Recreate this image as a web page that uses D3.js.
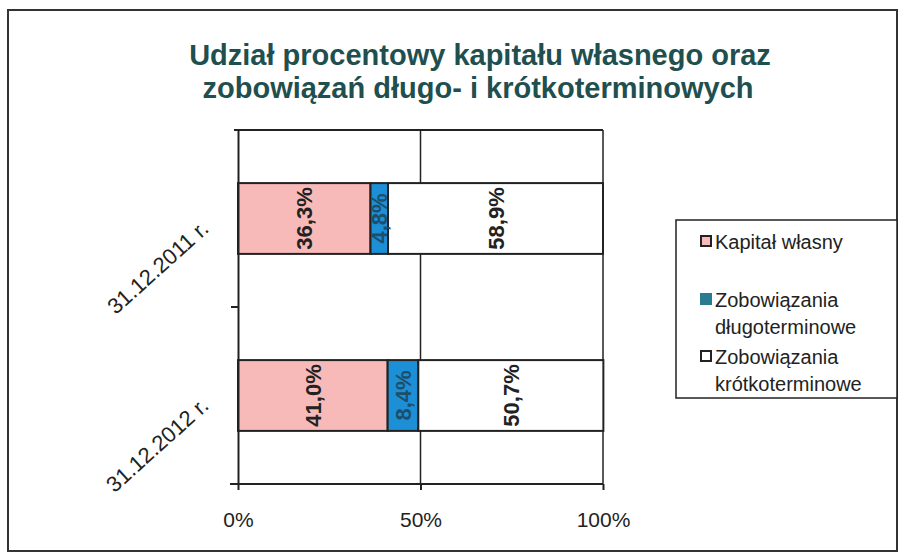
<!DOCTYPE html>
<html>
<head>
  <meta charset="utf-8">
  <script src="https://d3js.org/d3.v7.min.js"></script>
  <style>
    body { margin: 0; background: #fff; }
    text { font-family: Arial, "Liberation Sans", sans-serif; }
  </style>
</head>
<body>
  <script>
    // data
    var categories = ["31.12.2011 r.", "31.12.2012 r."];
    var seriesNames = ["Kapitał własny", "Zobowiązania długoterminowe", "Zobowiązania krótkoterminowe"];
    var kapital = [36.3, 41.0];
    var dlugo = [4.8, 8.4];
    var krotko = [58.9, 50.7];
    var xTicks = [0, 50, 100];

    var colors = ["#f8b9b9", "#1c8fd6", "#ffffff"];
    var ink = "#222";

    var svg = d3.select("body").append("svg")
      .attr("width", 899).attr("height", 556);

    // outer frame
    svg.append("rect")
      .attr("x", 8).attr("y", 10).attr("width", 889).attr("height", 541)
      .attr("fill", "none").attr("stroke", "#333").attr("stroke-width", 2);

    // title
    var title = svg.append("text")
      .attr("text-anchor", "middle")
      .attr("fill", "#1f4f4f")
      .style("font-size", "29px").style("font-weight", "bold");
    title.append("tspan").attr("x", 480).attr("y", 65).text("Udział procentowy kapitału własnego oraz");
    title.append("tspan").attr("x", 478).attr("y", 98).text("zobowiązań długo- i krótkoterminowych");

    var x = d3.scaleLinear().domain([0, 100]).range([238, 603]);
    var y = d3.scaleBand().domain(categories).range([130, 484]).paddingInner(0.6).paddingOuter(0.3);
    var yOuter = d3.scaleBand().domain(categories).range([130, 484]);

    // grid lines
    svg.selectAll("line.grid")
      .data([50, 100])
      .enter().append("line")
      .attr("class", "grid")
      .attr("x1", d => x(d)).attr("x2", d => x(d))
      .attr("y1", 130).attr("y2", 484)
      .attr("stroke", ink).attr("stroke-width", 1.5);

    // top border of the plot
    svg.append("line")
      .attr("x1", 234).attr("x2", x(100))
      .attr("y1", 130).attr("y2", 130)
      .attr("stroke", ink).attr("stroke-width", 2);

    // stacked rows
    var rows = categories.map(function(c, i) {
      var vals = [kapital[i], dlugo[i], krotko[i]];
      var start = 0;
      return vals.map(function(v, k) {
        var seg = { cat: c, k: k, v: v, x0: start, x1: start + v };
        start += v;
        return seg;
      });
    });
    var segs = [].concat.apply([], rows);

    svg.selectAll("rect.seg")
      .data(segs)
      .enter().append("rect")
      .attr("class", "seg")
      .attr("x", d => x(d.x0))
      .attr("width", d => x(d.x1) - x(d.x0))
      .attr("y", d => y(d.cat))
      .attr("height", y.bandwidth())
      .attr("fill", d => colors[d.k])
      .attr("stroke", ink).attr("stroke-width", 2);

    svg.selectAll("text.val")
      .data(segs)
      .enter().append("text")
      .attr("class", "val")
      .attr("transform", function(d) {
        var cx = (x(d.x0) + x(d.x1)) / 2 + 8;
        var cy = y(d.cat) + y.bandwidth() / 2;
        return "translate(" + cx + "," + cy + ") rotate(-90)";
      })
      .attr("text-anchor", "middle")
      .attr("fill", d => d.k == 1 ? "#1d4f6a" : ink)
      .style("font-size", "22px").style("font-weight", "bold")
      .text(d => d.v.toFixed(1).replace(".", ",") + "%");

    // y axis
    var yAxis = svg.append("g")
      .attr("transform", "translate(" + x(0) + ",0)")
      .call(d3.axisLeft(yOuter).tickSize(0).tickFormat(""));
    yAxis.select(".domain").attr("stroke", ink).attr("stroke-width", 2);
    // middle tick between categories
    svg.append("line")
      .attr("x1", x(0) - 7).attr("x2", x(0))
      .attr("y1", yOuter(categories[1])).attr("y2", yOuter(categories[1]))
      .attr("stroke", ink).attr("stroke-width", 2);

    svg.selectAll("text.cat")
      .data(categories)
      .enter().append("text")
      .attr("class", "cat")
      .attr("transform", d => "translate(" + 210 + "," + (y(d) + y.bandwidth() / 2 + 12) + ") rotate(-42)")
      .attr("text-anchor", "end")
      .attr("fill", ink)
      .style("font-size", "22px")
      .text(d => d);

    // x axis
    var xAxis = svg.append("g")
      .attr("transform", "translate(0,484)")
      .call(d3.axisBottom(x).tickValues(xTicks).tickSizeInner(6).tickSizeOuter(0)
        .tickFormat(d => d + "%"));
    xAxis.select(".domain").attr("stroke", ink).attr("stroke-width", 2)
      .attr("d", "M" + (x(0) - 8) + ",0H" + x(100));
    xAxis.selectAll(".tick line").attr("stroke", ink).attr("stroke-width", 2);
    xAxis.selectAll(".tick text")
      .attr("y", 28)
      .attr("fill", ink)
      .style("font-size", "21px")
      .style("font-family", "Arial, 'Liberation Sans', sans-serif");

    // legend
    var lg = svg.append("g");
    lg.append("rect")
      .attr("x", 676).attr("y", 220).attr("width", 221).attr("height", 178)
      .attr("fill", "#fff").attr("stroke", ink).attr("stroke-width", 1.5);

    var legendRows = [
      { lines: ["Kapitał własny"], y: 249 },
      { lines: ["Zobowiązania", "długoterminowe"], y: 307 },
      { lines: ["Zobowiązania", "krótkoterminowe"], y: 364 }
    ];
    legendRows.forEach(function(r, i) {
      lg.append("rect")
        .attr("x", 701).attr("y", r.y - 13).attr("width", 10).attr("height", 10)
        .attr("fill", i == 1 ? "#2a7a92" : colors[i])
        .attr("stroke", i == 1 ? "#2a7a92" : ink).attr("stroke-width", 2);
      var t = lg.append("text")
        .attr("fill", ink)
        .style("font-size", "20px");
      r.lines.forEach(function(s, j) {
        t.append("tspan").attr("x", 715).attr("y", r.y + j * 27).text(s);
      });
    });
  </script>
</body>
</html>
